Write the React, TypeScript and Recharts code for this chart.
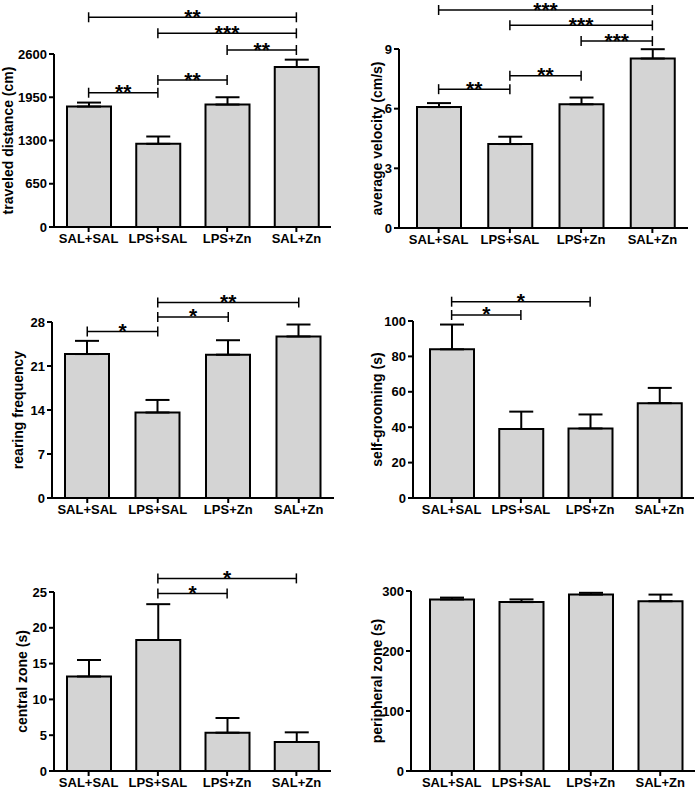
import React from 'react';
import { BarChart, Bar, XAxis, YAxis, ErrorBar, ReferenceLine } from 'recharts';

const groups = ['SAL+SAL', 'LPS+SAL', 'LPS+Zn', 'SAL+Zn'];

// traveled distance (cm)
const distanceMean = [1810, 1250, 1840, 2405];
const distanceSem = [60, 110, 110, 110];
const distanceTicks = [0, 650, 1300, 1950, 2600];

// average velocity (cm/s)
const velocityMean = [6.08, 4.22, 6.22, 8.52];
const velocitySem = [0.2, 0.37, 0.34, 0.47];
const velocityTicks = [0, 3, 6, 9];

// rearing frequency
const rearingMean = [22.9, 13.6, 22.8, 25.7];
const rearingSem = [2.1, 2.0, 2.3, 1.9];
const rearingTicks = [0, 7, 14, 21, 28];

// self-grooming (s)
const groomingMean = [84, 39, 39.3, 53.6];
const groomingSem = [14, 9.8, 7.9, 8.6];
const groomingTicks = [0, 20, 40, 60, 80, 100];

// central zone (s)
const centralMean = [13.2, 18.3, 5.35, 4.05];
const centralSem = [2.3, 5.0, 2.05, 1.35];
const centralTicks = [0, 5, 10, 15, 20, 25];

// peripheral zone (s)
const peripheralMean = [286, 281.5, 294, 283];
const peripheralSem = [3, 4.5, 3, 11];
const peripheralTicks = [0, 100, 200, 300];

type Bracket = { from: string; to: string; y: number; stars: string };

const distanceBrackets: Bracket[] = [
  { from: 'SAL+SAL', to: 'SAL+Zn', y: 3152, stars: '**' },
  { from: 'LPS+SAL', to: 'SAL+Zn', y: 2911, stars: '***' },
  { from: 'LPS+Zn', to: 'SAL+Zn', y: 2660, stars: '**' },
  { from: 'LPS+SAL', to: 'LPS+Zn', y: 2209, stars: '**' },
  { from: 'SAL+SAL', to: 'LPS+SAL', y: 2018, stars: '**' },
];
const velocityBrackets: Bracket[] = [
  { from: 'SAL+SAL', to: 'SAL+Zn', y: 10.96, stars: '***' },
  { from: 'LPS+SAL', to: 'SAL+Zn', y: 10.19, stars: '***' },
  { from: 'LPS+Zn', to: 'SAL+Zn', y: 9.4, stars: '***' },
  { from: 'LPS+SAL', to: 'LPS+Zn', y: 7.66, stars: '**' },
  { from: 'SAL+SAL', to: 'LPS+SAL', y: 6.98, stars: '**' },
];
const rearingBrackets: Bracket[] = [
  { from: 'LPS+SAL', to: 'SAL+Zn', y: 31.1, stars: '**' },
  { from: 'LPS+SAL', to: 'LPS+Zn', y: 28.8, stars: '*' },
  { from: 'SAL+SAL', to: 'LPS+SAL', y: 26.5, stars: '*' },
];
const groomingBrackets: Bracket[] = [
  { from: 'SAL+SAL', to: 'LPS+Zn', y: 110.9, stars: '*' },
  { from: 'SAL+SAL', to: 'LPS+SAL', y: 103.4, stars: '*' },
];
const centralBrackets: Bracket[] = [
  { from: 'LPS+SAL', to: 'SAL+Zn', y: 26.9, stars: '*' },
  { from: 'LPS+SAL', to: 'LPS+Zn', y: 24.8, stars: '*' },
];

const FONT = '"Liberation Sans", Arial, Helvetica, sans-serif';

const toRows = (mean: number[], sem: number[]) =>
  groups.map((name, i) => ({ name, value: mean[i], err: [0, sem[i]] }));

const bracketShape = (stars: string) => (p: any) => {
  const { x1, y1, x2 } = p;
  return (
    <g>
      <line x1={x1} y1={y1} x2={x2} y2={y1} stroke="#000" strokeWidth={1.5} />
      <line x1={x1} y1={y1 - 5} x2={x1} y2={y1 + 5} stroke="#000" strokeWidth={1.5} />
      <line x1={x2} y1={y1 - 5} x2={x2} y2={y1 + 5} stroke="#000" strokeWidth={1.5} />
      <text
        x={(x1 + x2) / 2}
        y={y1 + 6.5}
        textAnchor="middle"
        fontSize={21}
        fontWeight="bold"
        fontFamily={FONT}
        fill="#000"
      >
        {stars}
      </text>
    </g>
  );
};

type PanelProps = {
  left: number;
  top: number;
  width: number;
  height: number;
  axisW: number;
  marginTop: number;
  xAxisH: number;
  padLeft: number;
  titleX: number;
  title: string;
  mean: number[];
  sem: number[];
  ticks: number[];
  brackets: Bracket[];
};

const Panel: React.FC<PanelProps> = (p) => {
  const data = toRows(p.mean, p.sem);
  const max = p.ticks[p.ticks.length - 1];
  const plotH = p.height - p.marginTop - p.xAxisH;
  const cy = p.marginTop + plotH / 2;
  const tickStyle = { fill: '#000', fontSize: 13, fontWeight: 'bold', fontFamily: FONT };

  return (
    <div style={{ position: 'absolute', left: p.left, top: p.top }}>
      <BarChart
        width={p.width}
        height={p.height}
        data={data}
        margin={{ top: p.marginTop, right: 0, bottom: 0, left: 0 }}
        barSize={44}
      >
        <XAxis
          dataKey="name"
          height={p.xAxisH}
          padding={{ left: p.padLeft, right: 0 }}
          axisLine={{ stroke: '#000', strokeWidth: 2 }}
          tickLine={{ stroke: '#000', strokeWidth: 2 }}
          tickSize={5}
          tickMargin={2}
          interval={0}
          tick={tickStyle}
        />
        <YAxis
          width={p.axisW}
          type="number"
          domain={[0, max]}
          ticks={p.ticks}
          interval={0}
          axisLine={{ stroke: '#000', strokeWidth: 2 }}
          tickLine={{ stroke: '#000', strokeWidth: 2 }}
          tickSize={5}
          tickMargin={2}
          tick={tickStyle}
          label={{
            content: () => (
              <text
                x={p.titleX}
                y={cy}
                transform={`rotate(-90 ${p.titleX} ${cy})`}
                textAnchor="middle"
                dominantBaseline="central"
                fontSize={14}
                fontWeight="bold"
                fontFamily={FONT}
                fill="#000"
              >
                {p.title}
              </text>
            ),
          }}
        />
        <Bar dataKey="value" fill="#d4d4d4" stroke="#000" strokeWidth={2} isAnimationActive={false}>
          <ErrorBar dataKey="err" direction="y" width={12} stroke="#000" strokeWidth={2} isAnimationActive={false} />
        </Bar>
        {p.brackets.map((b, i) => (
          <ReferenceLine
            key={i}
            segment={[
              { x: b.from, y: b.y },
              { x: b.to, y: b.y },
            ]}
            ifOverflow="visible"
            shape={bracketShape(b.stars)}
          />
        ))}
      </BarChart>
    </div>
  );
};

const App: React.FC = () => {
  return (
    <div style={{ position: 'absolute', left: 0, top: 0, width: 695, height: 789, background: '#fff' }}>
      <Panel left={0} top={0} width={331} height={260} axisW={54} marginTop={54} xAxisH={33} padLeft={0}
        titleX={8} title="traveled distance (cm)" mean={distanceMean} sem={distanceSem}
        ticks={distanceTicks} brackets={distanceBrackets} />
      <Panel left={345} top={0} width={343} height={261} axisW={54} marginTop={49} xAxisH={33} padLeft={4}
        titleX={32} title="average velocity (cm/s)" mean={velocityMean} sem={velocitySem}
        ticks={velocityTicks} brackets={velocityBrackets} />
      <Panel left={0} top={270} width={334} height={261} axisW={52} marginTop={52} xAxisH={33} padLeft={0}
        titleX={18} title="rearing frequency" mean={rearingMean} sem={rearingSem}
        ticks={rearingTicks} brackets={rearingBrackets} />
      <Panel left={345} top={270} width={349} height={261} axisW={68} marginTop={51} xAxisH={33} padLeft={4}
        titleX={32} title="self-grooming (s)" mean={groomingMean} sem={groomingSem}
        ticks={groomingTicks} brackets={groomingBrackets} />
      <Panel left={0} top={520} width={331} height={269} axisW={54} marginTop={72} xAxisH={18} padLeft={0}
        titleX={22} title="central zone (s)" mean={centralMean} sem={centralSem}
        ticks={centralTicks} brackets={centralBrackets} />
      <Panel left={345} top={520} width={350} height={269} axisW={66} marginTop={71} xAxisH={18} padLeft={6}
        titleX={32} title="peripheral zone (s)" mean={peripheralMean} sem={peripheralSem}
        ticks={peripheralTicks} brackets={[]} />
    </div>
  );
};

export default App;
